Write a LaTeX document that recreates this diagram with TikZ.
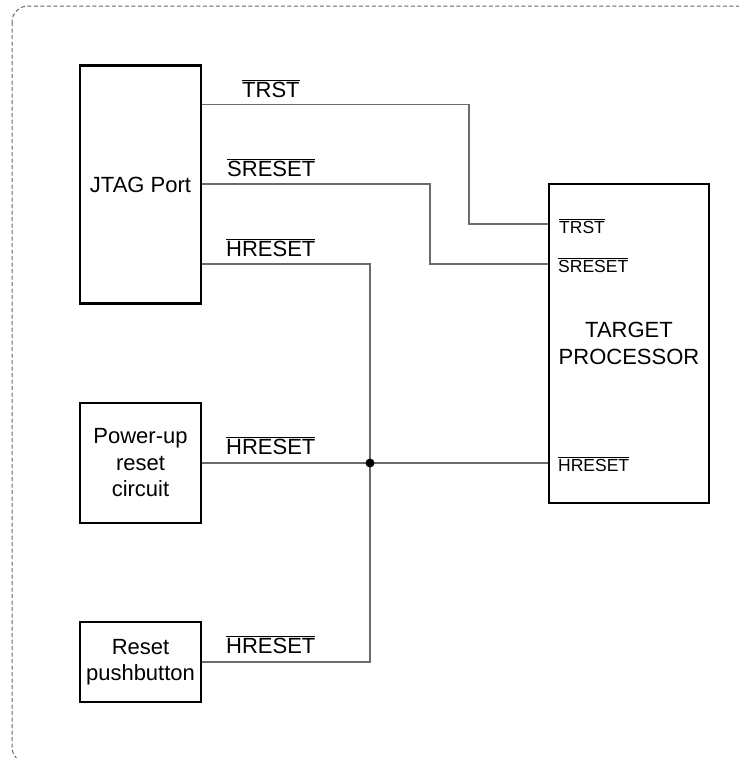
\documentclass[tikz,border=0pt]{standalone}
\usepackage{fontspec}
\setmainfont{Liberation Sans}
\usetikzlibrary{calc}
\newcommand\ovl[1]{$\overline{\hbox{#1}}$}
\begin{document}
\begin{tikzpicture}[x=1pt,y=-1pt,
  blockbox/.style={draw=black,line width=2.2pt,inner sep=0pt,align=center,
    font=\fontsize{22}{26.5}\selectfont},
  wire/.style={draw=black!58,line width=1.5pt},
  biglbl/.style={anchor=base west,inner sep=0pt,font=\fontsize{22}{26}\selectfont},
  smalllbl/.style={anchor=base west,inner sep=0pt,font=\fontsize{17.5}{20}\selectfont}]
\useasboundingbox (0,0) rectangle (739,758);
\begin{scope}
\clip (0,0) rectangle (739,758);
\draw[black!60,dash pattern=on 4pt off 2.5pt,line width=1pt,rounded corners=16pt] (12,6) rectangle (752,763);
\end{scope}
% blocks
\node[blockbox,minimum width=121pt,minimum height=238pt] (jtag) at (140.5,184.5) {JTAG Port};
\node[blockbox,minimum width=121pt,minimum height=120pt] (pwr) at (140.5,463) {Power-up\\reset\\circuit};
\node[blockbox,minimum width=121pt,minimum height=80pt] (rst) at (140.5,662) {Reset\\pushbutton};
\node[blockbox,minimum width=160pt,minimum height=319pt] (cpu) at (629,343.5) {TARGET\\PROCESSOR};
% junction
\coordinate (j) at (370,463);
% wires
\draw[wire] (jtag.east |- 0,104.5) -- (469,104.5) -- (469,224) -- (cpu.west |- 0,224);
\draw[wire] (jtag.east |- 0,184) -- (430,184) -- (430,264) -- (cpu.west |- 0,264);
\draw[wire] (jtag.east |- 0,264) -| (j);
\draw[wire] (pwr.east |- j) -- (j) -- (cpu.west |- j);
\draw[wire] (rst.east |- 0,662) -| (j);
\fill[black] (j) circle (4.5pt);
% labels
\node[biglbl] (l1) at (242,97) {\ovl{TRST}};
\node[biglbl] (l2) at (227,176) {\ovl{SRESET}};
\node[biglbl] (l3) at (226,256) {\ovl{HRESET}};
\node[biglbl] (l4) at (226,454) {\ovl{HRESET}};
\node[biglbl] (l5) at (226,653) {\ovl{HRESET}};
\node[smalllbl] (s1) at (559,233) {\ovl{TRST}};
\node[smalllbl] (s2) at (558,272) {\ovl{SRESET}};
\node[smalllbl] (s3) at (558,471) {\ovl{HRESET}};
\end{tikzpicture}
\end{document}
